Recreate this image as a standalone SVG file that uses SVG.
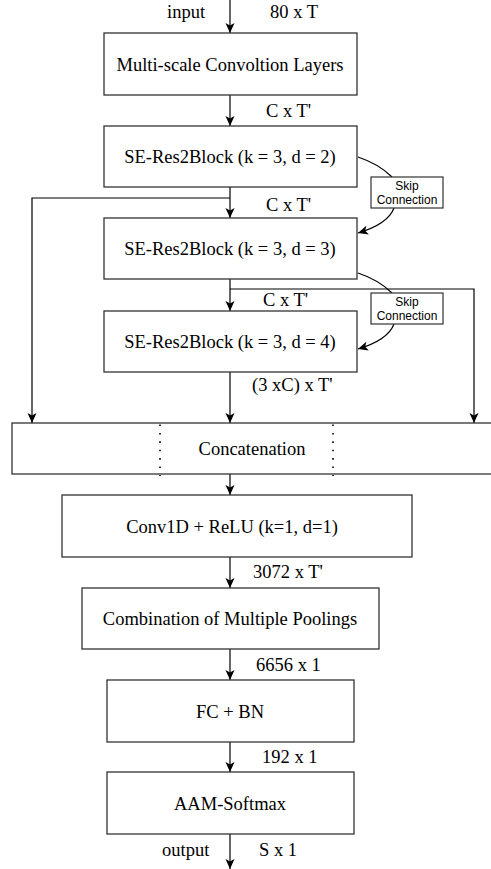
<svg xmlns="http://www.w3.org/2000/svg" width="491" height="869" viewBox="0 0 491 869">
  <defs>
    <marker id="arrow" markerUnits="userSpaceOnUse" markerWidth="12" markerHeight="10" viewBox="-11 -5 12 10" refX="0" refY="0" orient="auto">
      <path d="M0,0 L-10,-4.5 L-7.5,0 L-10,4.5 Z" fill="#000"/>
    </marker>
    <style>
      .box { fill: #fff; stroke: #333; stroke-width: 1.3; }
      .lbl { font-family: "Liberation Serif", "Times New Roman", serif; font-size: 18.5px; fill: #000; }
      .mid { text-anchor: middle; }
      .skip { fill: #fff; stroke: #333; stroke-width: 1.2; }
      .skiptxt { font-family: "Liberation Sans", Arial, sans-serif; font-size: 12px; fill: #000; text-anchor: middle; }
      .edge { fill: none; stroke: #000; stroke-width: 1.2; }
      .dots { stroke: #000; stroke-width: 1.6; stroke-dasharray: 1.6 6.8; }
    </style>
  </defs>

  <!-- connectors -->
  <g id="connectors">
    <line class="edge" x1="230" y1="0" x2="230" y2="33" marker-end="url(#arrow)"/>
    <line class="edge" x1="230" y1="95" x2="230" y2="126" marker-end="url(#arrow)"/>
    <line class="edge" x1="230" y1="187" x2="230" y2="218" marker-end="url(#arrow)"/>
    <polyline class="edge" points="230,198 32,198 32,423" marker-end="url(#arrow)"/>
    <line class="edge" x1="230" y1="279" x2="230" y2="311" marker-end="url(#arrow)"/>
    <polyline class="edge" points="230,289 474,289 474,423" marker-end="url(#arrow)"/>
    <line class="edge" x1="230" y1="372" x2="230" y2="423" marker-end="url(#arrow)"/>
    <line class="edge" x1="230" y1="474" x2="230" y2="495" marker-end="url(#arrow)"/>
    <line class="edge" x1="230" y1="557" x2="230" y2="588" marker-end="url(#arrow)"/>
    <line class="edge" x1="230" y1="649" x2="230" y2="680" marker-end="url(#arrow)"/>
    <line class="edge" x1="230" y1="742" x2="230" y2="772" marker-end="url(#arrow)"/>
    <line class="edge" x1="230" y1="834" x2="230" y2="869" marker-end="url(#arrow)"/>
    <!-- skip connections -->
    <path class="edge" d="M358,157 Q379,164 392,177"/>
    <path class="edge" d="M394,208 Q388,224 358,233" marker-end="url(#arrow)"/>
    <path class="edge" d="M358,273 Q379,280 392,293"/>
    <path class="edge" d="M394,324 Q388,340 358,349" marker-end="url(#arrow)"/>
  </g>

  <!-- dimension labels -->
  <g id="dims">
    <text class="lbl" x="167" y="17.5">input</text>
    <text class="lbl" x="270" y="17.5">80 x T</text>
    <text class="lbl" x="266" y="117">C x T'</text>
    <text class="lbl" x="266" y="211">C x T'</text>
    <text class="lbl" x="263" y="306">C x T'</text>
    <text class="lbl" x="252" y="391">(3 xC) x T'</text>
    <text class="lbl" x="253" y="578">3072 x T'</text>
    <text class="lbl" x="256" y="671">6656 x 1</text>
    <text class="lbl" x="262" y="763">192 x 1</text>
    <text class="lbl" x="162" y="856">output</text>
    <text class="lbl" x="259" y="856">S x 1</text>
  </g>

  <g id="msconv">
    <rect class="box" x="104" y="33" width="253" height="62"/>
    <text class="lbl mid" x="230" y="70.5">Multi-scale Convoltion Layers</text>
  </g>

  <g id="block1">
    <rect class="box" x="104" y="126" width="253" height="61"/>
    <text class="lbl mid" x="230" y="163">SE-Res2Block (k = 3, d = 2)</text>
  </g>

  <g id="skip1">
    <rect class="skip" x="371" y="177" width="72" height="31"/>
    <text class="skiptxt" x="407" y="190">Skip</text>
    <text class="skiptxt" x="407" y="204">Connection</text>
  </g>

  <g id="block2">
    <rect class="box" x="104" y="218" width="253" height="61"/>
    <text class="lbl mid" x="230" y="255">SE-Res2Block (k = 3, d = 3)</text>
  </g>

  <g id="skip2">
    <rect class="skip" x="371" y="293" width="72" height="31"/>
    <text class="skiptxt" x="407" y="306">Skip</text>
    <text class="skiptxt" x="407" y="320">Connection</text>
  </g>

  <g id="block3">
    <rect class="box" x="104" y="311" width="253" height="61"/>
    <text class="lbl mid" x="230" y="348">SE-Res2Block (k = 3, d = 4)</text>
  </g>

  <g id="concat">
    <rect class="box" x="12" y="423" width="495" height="51"/>
    <line class="dots" x1="160" y1="424.5" x2="160" y2="476"/>
    <line class="dots" x1="333" y1="424.5" x2="333" y2="476"/>
    <text class="lbl mid" x="252" y="455">Concatenation</text>
  </g>

  <g id="conv1d">
    <rect class="box" x="62" y="495" width="350" height="62"/>
    <text class="lbl mid" x="232" y="533">Conv1D + ReLU (k=1, d=1)</text>
  </g>

  <g id="pooling">
    <rect class="box" x="82" y="588" width="297" height="61"/>
    <text class="lbl mid" x="230" y="625">Combination of Multiple Poolings</text>
  </g>

  <g id="fcbn">
    <rect class="box" x="107" y="680" width="247" height="62"/>
    <text class="lbl mid" x="230" y="717.5">FC + BN</text>
  </g>

  <g id="aam">
    <rect class="box" x="107" y="772" width="247" height="62"/>
    <text class="lbl mid" x="230" y="809.5">AAM-Softmax</text>
  </g>
</svg>
